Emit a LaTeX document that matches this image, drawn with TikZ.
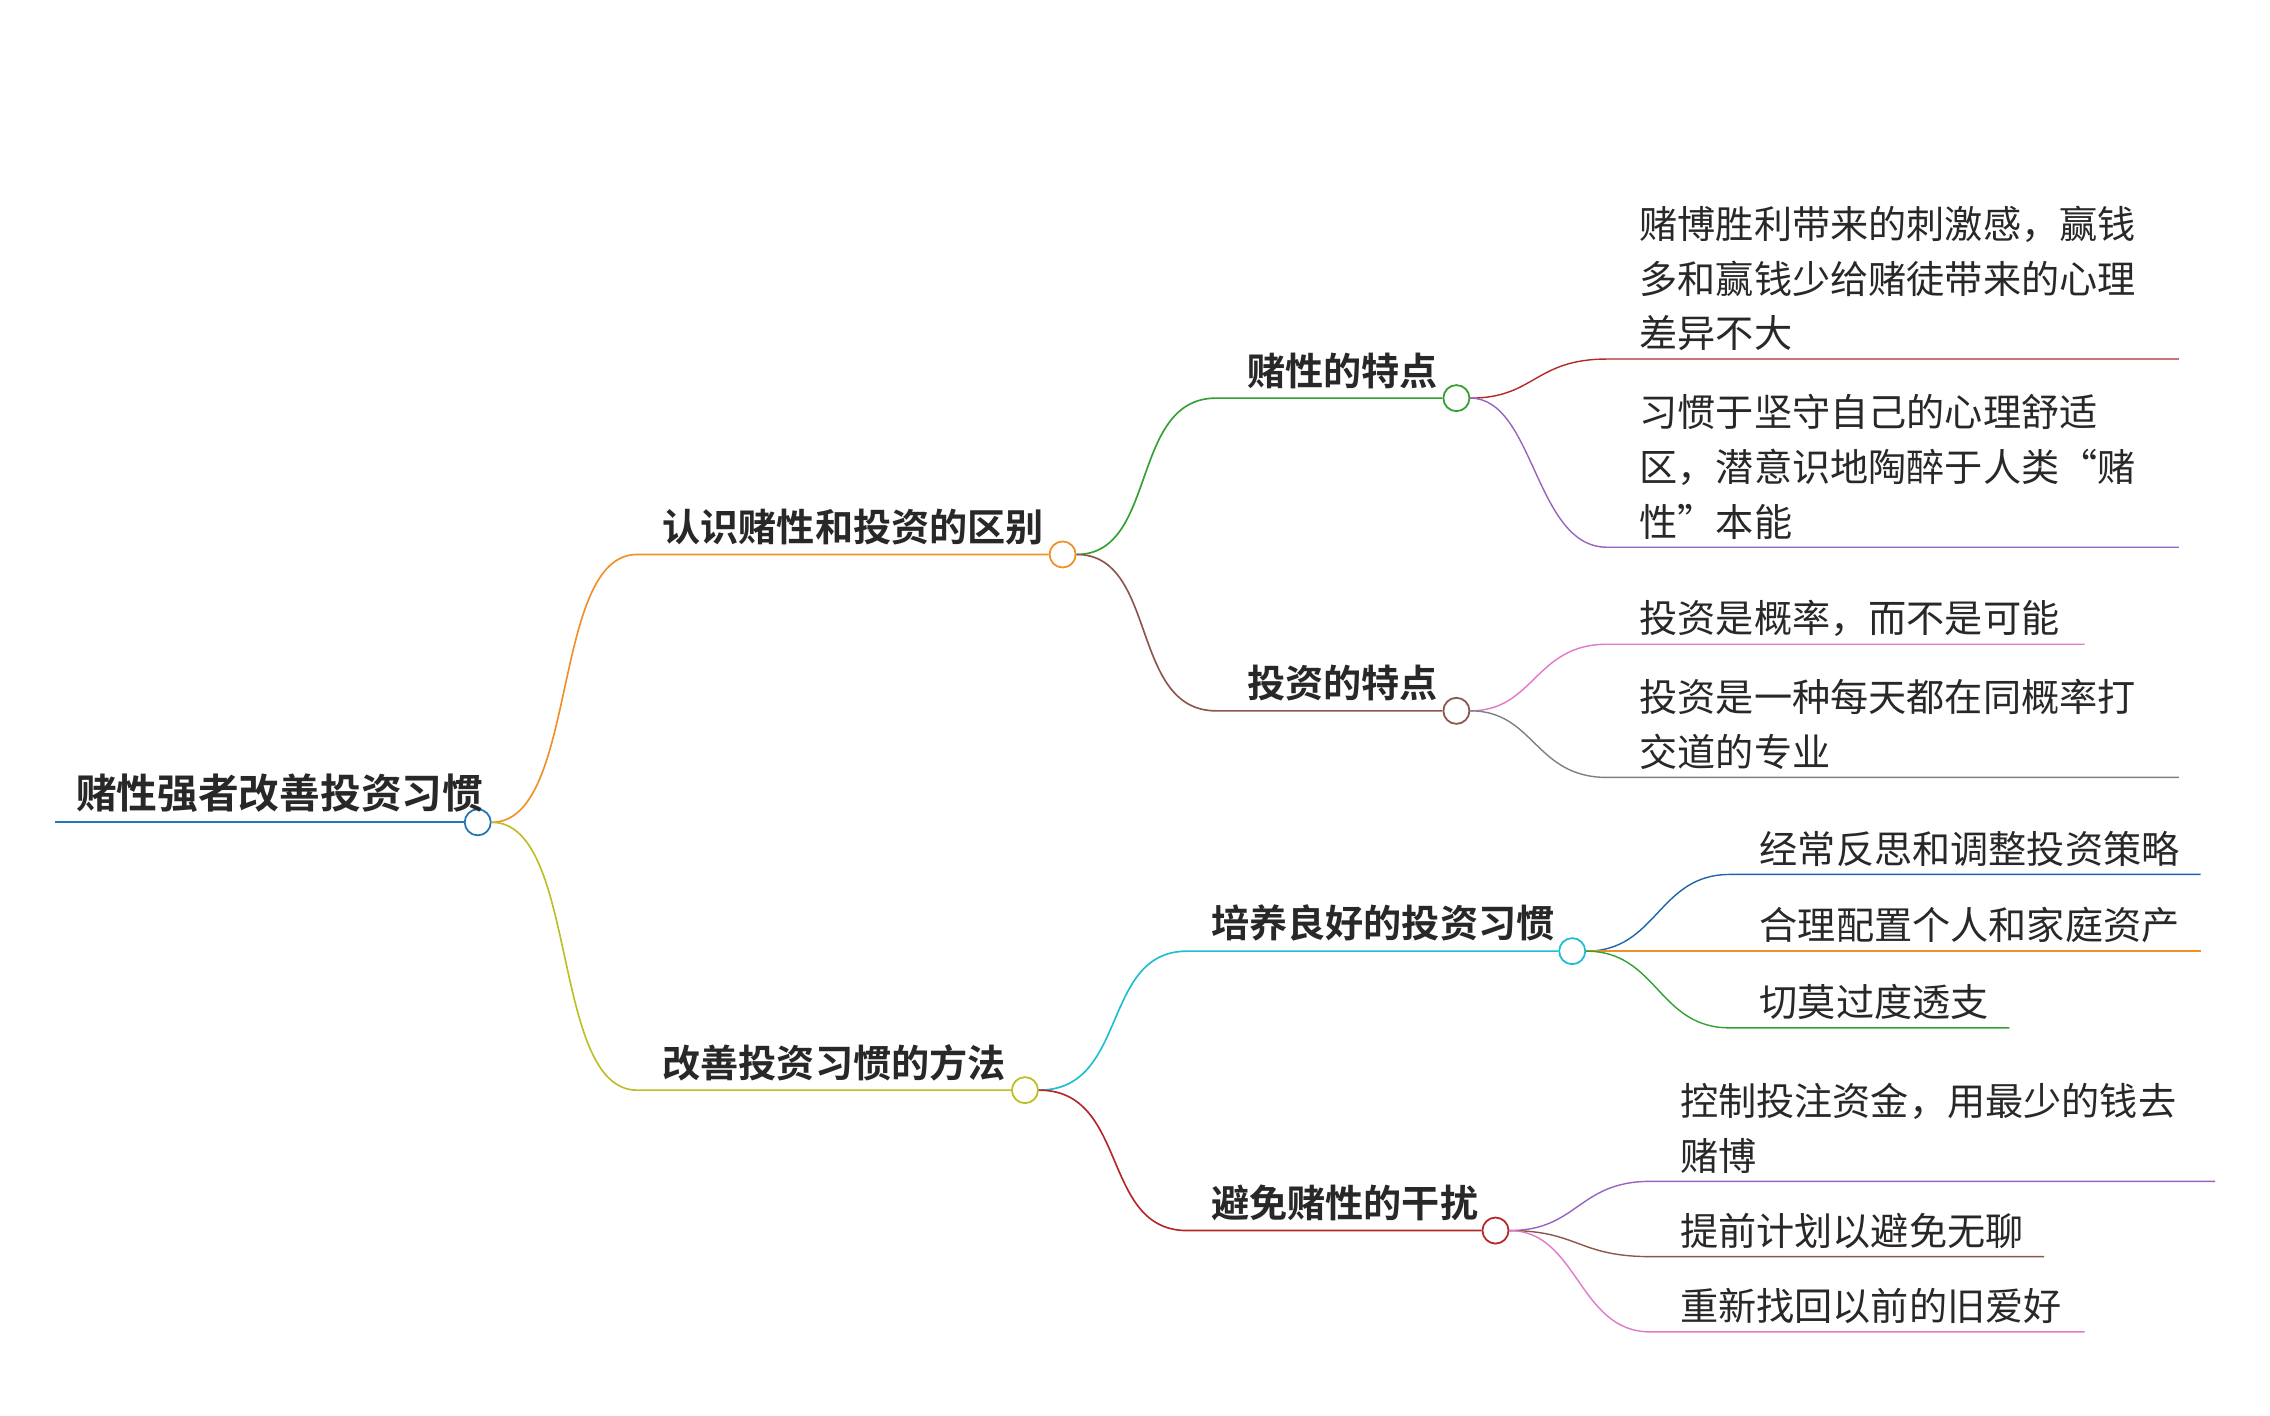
\documentclass[tikz,border=0pt]{standalone}
\usepackage{fontspec}
\setmainfont{Noto Sans CJK SC}
\newfontfamily\boldcjk{Noto Sans CJK SC Bold}
\usetikzlibrary{positioning}
\definecolor{cRoot}{RGB}{31,119,180}
\definecolor{cOrange}{RGB}{240,145,40}
\definecolor{cOlive}{RGB}{190,190,40}
\definecolor{cGreen}{RGB}{50,160,50}
\definecolor{cBrown}{RGB}{140,86,75}
\definecolor{cCyan}{RGB}{30,190,210}
\definecolor{cRed}{RGB}{180,40,40}
\definecolor{cPurple}{RGB}{150,100,190}
\definecolor{cPink}{RGB}{225,120,200}
\definecolor{cGray}{RGB}{127,127,127}
\definecolor{cBlue}{RGB}{31,100,170}
\definecolor{cText}{RGB}{40,40,40}

\begin{document}
\begin{tikzpicture}[
    x=0.4mm, y=-0.4mm, line width=1.3pt,
    knob/.style={circle, draw, fill=white, line width=1.4pt, minimum size=7.2mm, inner sep=0pt},
    topic/.style={anchor=south west, inner sep=0pt, text=cText, font=\boldcjk\fontsize{30}{43}\selectfont},
    leaf/.style={anchor=south west, inner sep=0pt, align=left, text=cText, font=\fontsize{30}{43}\selectfont},
    twig/.style={line width=1.1pt}
]
    \useasboundingbox (0,0) rectangle (1568,978);

    % Root
    \node[knob, draw=cRoot] (root) at (330,568) {};
    \node[topic, font=\boldcjk\fontsize{32}{43}\selectfont] (rootT) at (52,562) {赌性强者改善投资习惯};
    \draw[cRoot] (38,568) -- (root.west);

    % Level 1
    \node[knob, draw=cOrange] (know) at (734,383) {};
    \node[topic] (knowT) at (457,377) {认识赌性和投资的区别};
    \draw[cOrange] (root.east) .. controls (400,568) and (380,383) .. (440,383) -- (know.west);

    \node[knob, draw=cOlive] (fix) at (708,753) {};
    \node[topic] (fixT) at (457,747) {改善投资习惯的方法};
    \draw[cOlive] (root.east) .. controls (400,568) and (380,753) .. (440,753) -- (fix.west);

    % Level 2
    \node[knob, draw=cGreen] (gamb) at (1006,275) {};
    \node[topic] (gambT) at (861,269) {赌性的特点};
    \draw[cGreen] (know.east) .. controls (800,383) and (780,275) .. (840,275) -- (gamb.west);

    \node[knob, draw=cBrown] (inv) at (1006,491) {};
    \node[topic] (invT) at (861,485) {投资的特点};
    \draw[cBrown] (know.east) .. controls (800,383) and (780,491) .. (840,491) -- (inv.west);

    \node[knob, draw=cCyan] (habit) at (1086,657) {};
    \node[topic] (habitT) at (836,651) {培养良好的投资习惯};
    \draw[cCyan] (fix.east) .. controls (780,753) and (760,657) .. (820,657) -- (habit.west);

    \node[knob, draw=cRed] (avoid) at (1033,850) {};
    \node[topic] (avoidT) at (836,844) {避免赌性的干扰};
    \draw[cRed] (fix.east) .. controls (780,753) and (760,850) .. (820,850) -- (avoid.west);

    % Leaves of gamb
    \coordinate (g1) at (1110,248);
    \node[leaf] (g1T) at (1132,243) {赌博胜利带来的刺激感，赢钱\\多和赢钱少给赌徒带来的心理\\差异不大};
    \draw[twig, cRed] (gamb.east) .. controls (1060,275) and (1060,248) .. (g1) -- (1505,248);
    \coordinate (g2) at (1110,378);
    \node[leaf] (g2T) at (1132,373) {习惯于坚守自己的心理舒适\\区，潜意识地陶醉于人类“赌\\性”本能};
    \draw[twig, cPurple] (gamb.east) .. controls (1060,275) and (1060,378) .. (g2) -- (1505,378);

    % Leaves of inv
    \coordinate (i1) at (1110,445);
    \node[leaf] (i1T) at (1132,440) {投资是概率，而不是可能};
    \draw[twig, cPink] (inv.east) .. controls (1060,491) and (1060,445) .. (i1) -- (1440,445);
    \coordinate (i2) at (1110,537);
    \node[leaf] (i2T) at (1132,532) {投资是一种每天都在同概率打\\交道的专业};
    \draw[twig, cGray] (inv.east) .. controls (1060,491) and (1060,537) .. (i2) -- (1505,537);

    % Leaves of habit
    \coordinate (h1) at (1195,604);
    \node[leaf] (h1T) at (1215,599) {经常反思和调整投资策略};
    \draw[twig, cBlue] (habit.east) .. controls (1145,657) and (1145,604) .. (h1) -- (1520,604);
    \coordinate (h2) at (1195,657);
    \node[leaf] (h2T) at (1215,652) {合理配置个人和家庭资产};
    \draw[twig, cOrange] (habit.east) -- (h2) -- (1520,657);
    \coordinate (h3) at (1195,710);
    \node[leaf] (h3T) at (1215,705) {切莫过度透支};
    \draw[twig, cGreen] (habit.east) .. controls (1145,657) and (1145,710) .. (h3) -- (1388,710);

    % Leaves of avoid
    \coordinate (a1) at (1140,816);
    \node[leaf] (a1T) at (1160,811) {控制投注资金，用最少的钱去\\赌博};
    \draw[twig, cPurple] (avoid.east) .. controls (1090,850) and (1090,816) .. (a1) -- (1530,816);
    \coordinate (a2) at (1140,868);
    \node[leaf] (a2T) at (1160,863) {提前计划以避免无聊};
    \draw[twig, cBrown] (avoid.east) .. controls (1090,850) and (1090,868) .. (a2) -- (1412,868);
    \coordinate (a3) at (1140,920);
    \node[leaf] (a3T) at (1160,915) {重新找回以前的旧爱好};
    \draw[twig, cPink] (avoid.east) .. controls (1090,850) and (1090,920) .. (a3) -- (1440,920);
\end{tikzpicture}
\end{document}
